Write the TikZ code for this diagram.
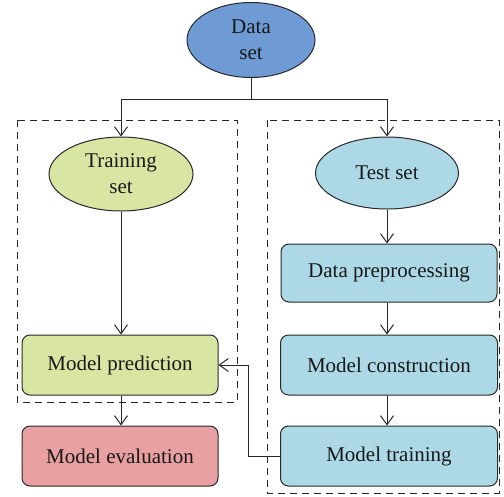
\documentclass[tikz,border=0pt]{standalone}
\usepackage{fontspec}
\setmainfont{Liberation Serif}
\usetikzlibrary{arrows.meta,shapes.geometric}
\definecolor{dsblue}{RGB}{110,155,212}
\definecolor{trgreen}{RGB}{217,229,163}
\definecolor{teblue}{RGB}{173,217,231}
\definecolor{evpink}{RGB}{232,160,160}
\definecolor{edge}{RGB}{40,40,40}
\begin{document}
\begin{tikzpicture}[x=1pt,y=-1pt,
  font=\fontsize{21}{26}\selectfont,
  every node/.style={text=black!90},
  ell/.style={ellipse,draw=edge,line width=1pt,inner sep=0pt,align=center},
  boxnode/.style={rectangle,rounded corners=8pt,draw=edge,line width=1pt,inner sep=0pt,align=center},
  arr/.style={draw=edge,line width=1pt,-{Straight Barb[length=9pt,width=13pt,line width=1pt]}},
  conn/.style={draw=edge,line width=1pt},
  dashbox/.style={draw=edge,line width=1pt,dash pattern=on 7pt off 5pt}]
\useasboundingbox (0,0) rectangle (504,496);
% dashed groups
\draw[dashbox] (17,120) rectangle (237,402);
\draw[dashbox] (267,120) rectangle (499,493);
% nodes
\node[ell,fill=dsblue,minimum width=128pt,minimum height=75pt] (ds) at (251,40) {Data\\set};
\node[ell,fill=trgreen,minimum width=144pt,minimum height=74pt] (tr) at (121,174) {Training\\set};
\node[ell,fill=teblue,minimum width=143pt,minimum height=72pt] (te) at (387,173) {Test set};
\node[boxnode,fill=teblue,minimum width=216pt,minimum height=58pt] (dp) at (389,273) {Data preprocessing};
\node[boxnode,fill=teblue,minimum width=217pt,minimum height=60pt] (mc) at (389,365) {Model construction};
\node[boxnode,fill=teblue,minimum width=217pt,minimum height=60pt] (mt) at (389,456) {Model training};
\node[boxnode,fill=trgreen,minimum width=196pt,minimum height=60pt] (mp) at (120,365) {Model prediction};
\node[boxnode,fill=evpink,minimum width=196pt,minimum height=60pt] (me) at (120,456) {Model evaluation};
% connectors
\coordinate (j) at (251,99);
\draw[conn] (ds.south) -- (j);
\draw[arr] (j) -| (tr.north);
\draw[arr] (j) -| (te.north);
\draw[arr] (te.south) -- (te.south |- dp.north);
\draw[arr] (te.south |- dp.south) -- (te.south |- mc.north);
\draw[arr] (te.south |- mc.south) -- (te.south |- mt.north);
\draw[arr] (tr.south) -- (tr.south |- mp.north);
\draw[arr] (tr.south |- mp.south) -- (tr.south |- me.north);
\draw[arr] (mt.west) -- ++(-32,0) |- (mp.east);
\end{tikzpicture}
\end{document}
